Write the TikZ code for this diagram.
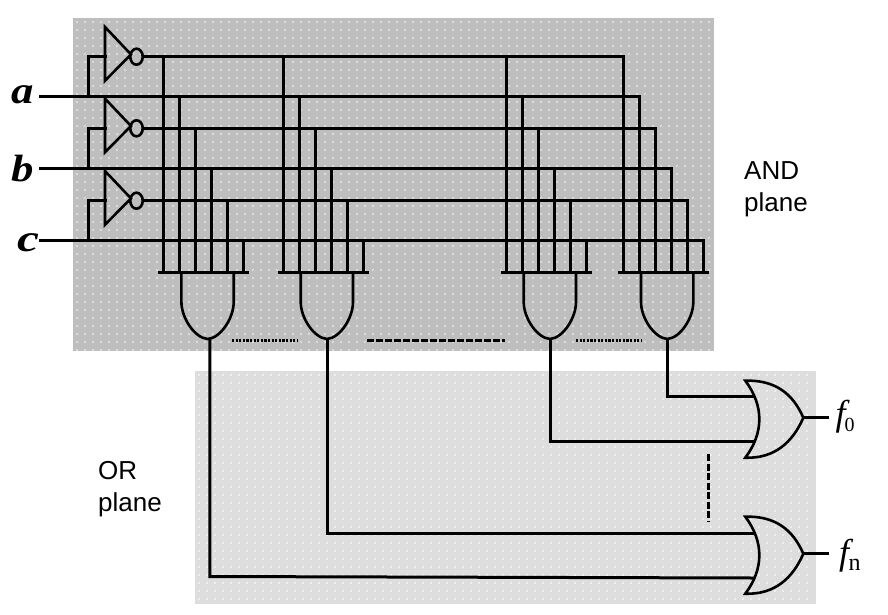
\documentclass[tikz,border=0pt]{standalone}
\usepackage{fontspec}
\setmainfont{Liberation Sans}
\newfontfamily\timesface{Liberation Serif}
\usetikzlibrary{shapes.geometric}
\definecolor{andgray}{HTML}{BEBEBE}
\definecolor{andspot}{HTML}{DEDEDE}
\definecolor{orgray}{HTML}{DDDDDD}
\definecolor{orspot}{HTML}{F0F0F0}
\tikzstyle{wire} = [
    line width=3pt,
    line cap=rect,
    draw=black
]
\tikzstyle{bubble} = [
    ellipse,
    minimum width=12.5pt,
    minimum height=16pt,
    inner sep=0pt,
    line width=2.6pt,
    draw=black
]
\tikzstyle{inputlabel} = [
    inner sep=0pt,
    anchor=base,
    xscale=1.18,
    font=\timesface\bfseries\itshape\fontsize{38}{38}\selectfont
]
\tikzstyle{outlabel} = [
    inner sep=0pt,
    anchor=base west,
    font=\timesface\itshape\fontsize{36}{36}\selectfont
]
\tikzstyle{planelabel} = [
    inner sep=0pt,
    anchor=north west,
    align=left,
    font=\fontsize{26}{32}\selectfont
]
\tikzstyle{gap} = [
    line width=3pt
]

\begin{document}
\begin{tikzpicture}[x=1pt,y=-1pt]
\useasboundingbox (0,0) rectangle (888,614);

% planes
\fill [andgray] (73,18) rectangle (714,351);
\fill [orgray] (195,371) rectangle (816,604);
\fill [andspot] \foreach \x in {77,85,...,712} {\foreach \y in {22,30,...,350} {(\x,\y) circle (1.4)}};
\fill [orspot] \foreach \x in {199,207,...,814} {\foreach \y in {375,383,...,602} {(\x,\y) circle (1.4)}};

% inverters
\foreach \i/\iy/\fy in {1/56.7/96.3, 2/128.3/168, 3/200.7/240} {
    \node (bub\i) [bubble] at (136.5,\iy) {};
    \coordinate (inv\i) at (105,\iy);
    \coordinate (fb\i) at (88,\fy);
    \draw [wire, line width=2.6pt, line cap=butt, line join=miter] (105,\iy-29.7) -- (131,\iy-2.3) -- (105,\iy+24) -- cycle;
    \draw [wire] (fb\i) |- (inv\i);
}

% columns of the AND gates
\foreach \g/\gx in {1/163.7, 2/283, 3/506, 4/623.3} {
    \foreach \k/\ky in {0/56.7, 1/96.3, 2/128.3, 3/168, 4/200.7, 5/240} {
        \coordinate (top\g\k) at (\gx+16*\k,\ky);
        \coordinate (bus\g\k) at (\gx+16*\k,272.3);
        \draw [wire] (top\g\k) -- (bus\g\k);
    }
    \draw [wire, line cap=butt] (\gx-5.5,272.3) -- (\gx+85.5,272.3);
    \draw [wire, line width=2.6pt, line cap=butt] (\gx+17.7,272.3) -- (\gx+17.7,302)
        .. controls (\gx+17.7,318) and (\gx+31,338) .. (\gx+44,339)
        .. controls (\gx+57,338) and (\gx+70,318) .. (\gx+70,302)
        -- (\gx+70,272.3);
}

% inputs and row wires
\coordinate (ina) at (40,96.3);
\coordinate (inb) at (40,168);
\coordinate (inc) at (40,240);
\draw [wire] (ina) -- (top41);
\draw [wire] (inb) -- (top43);
\draw [wire] (inc) -- (top45);
\draw [wire] (bub1) -- (top40);
\draw [wire] (bub2) -- (top42);
\draw [wire] (bub3) -- (top44);

\node (lbla) [inputlabel] at (22.5,103) {a};
\node (lblb) [inputlabel] at (23,181) {b};
\node (lblc) [inputlabel, xscale=1.1] at (28,251) {c};

% gaps between the gates
\coordinate (gapa) at (232,340);
\coordinate (gapb) at (297,340);
\coordinate (gapc) at (367,340);
\coordinate (gapd) at (505,340);
\coordinate (gape) at (576,340);
\coordinate (gapf) at (641,340);
\draw [gap, dash pattern=on 2.2pt off 1.4pt] (gapa) -- (gapb);
\draw [gap, dash pattern=on 7pt off 2pt] (gapc) -- (gapd);
\draw [gap, dash pattern=on 2.2pt off 1.4pt] (gape) -- (gapf);

% OR gates
\foreach \o/\oy in {zero/380.7, last/516.7} {
    \draw [wire, line width=2.6pt, line cap=butt, line join=miter] (745.3,\oy)
        .. controls (775,\oy-1) and (793,\oy+13) .. (803.3,\oy+37)
        .. controls (793,\oy+61) and (775,\oy+78) .. (745.3,\oy+77)
        .. controls (764,\oy+52) and (764,\oy+25) .. cycle;
    \coordinate (nose\o) at (803.3,\oy+37);
    \coordinate (end\o) at (829,\oy+37);
    \draw [wire, line cap=butt] (nose\o) -- (end\o);
}

\coordinate (out1) at (209.8,339);
\coordinate (out2) at (327,339);
\coordinate (out3) at (550,339);
\coordinate (out4) at (667,339);
\coordinate (turn1) at (209.8,576.5);
\coordinate (orb) at (755,578);
\coordinate (ora) at (755,533);
\coordinate (ord) at (755,441.7);
\coordinate (orc) at (755,396.7);
\draw [wire, line cap=butt, line join=miter] (out1) -- (turn1) -- (orb);
\draw [wire, line cap=butt, line join=miter] (out2) |- (ora);
\draw [wire, line cap=butt, line join=miter] (out3) |- (ord);
\draw [wire, line cap=butt, line join=miter] (out4) |- (orc);

\coordinate (vgapa) at (708.7,454);
\coordinate (vgapb) at (708.7,522);
\draw [gap, dash pattern=on 7pt off 2.5pt] (vgapa) -- (vgapb);

\node (lblfz) [outlabel] at (835.5,425) {f\kern-1pt\raisebox{-6.5pt}{\fontsize{20}{20}\selectfont\upshape 0}};
\node (lblfn) [outlabel] at (839,564) {f\kern-0.5pt\raisebox{-6.5pt}{\fontsize{24}{24}\selectfont\upshape n}};

\node (andplane) [planelabel] at (744,161) {AND\\plane};
\node (orplane) [planelabel] at (98,461) {OR\\plane};

\end{tikzpicture}
\end{document}
